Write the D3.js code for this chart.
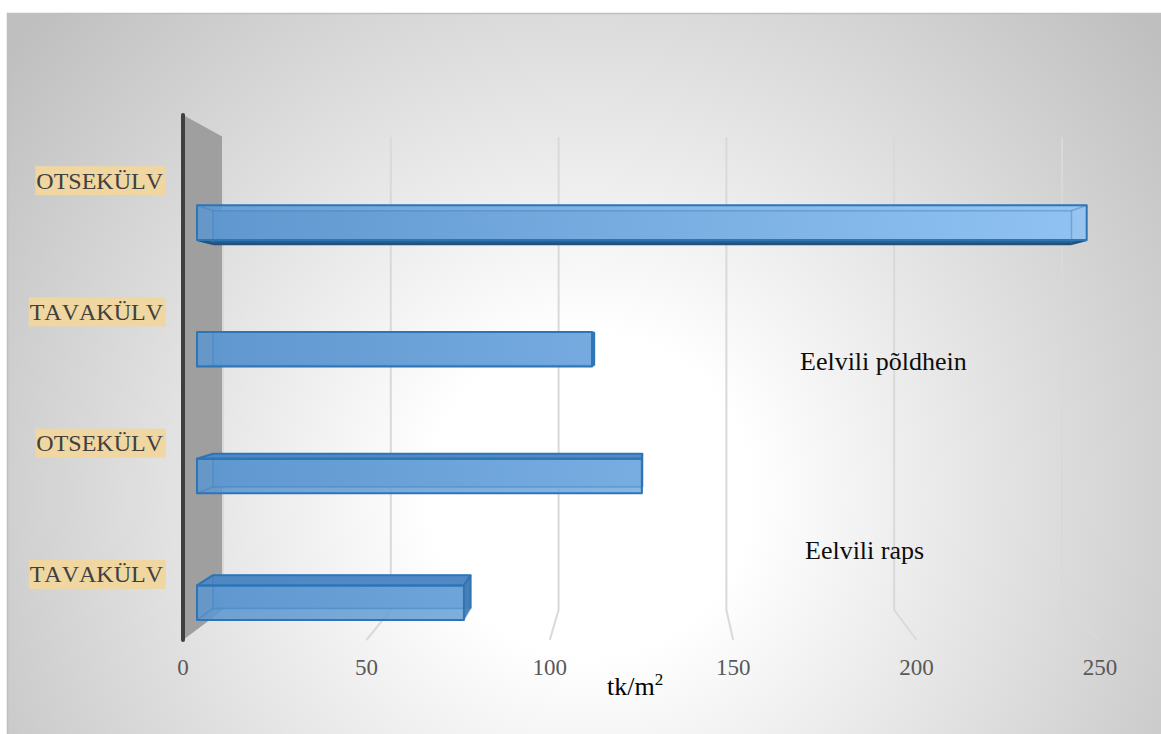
<!DOCTYPE html>
<html>
<head>
<meta charset="utf-8">
<script src="https://cdn.jsdelivr.net/npm/d3@7"></script>
<style>
  html, body { margin: 0; padding: 0; background: #ffffff; }
  svg { display: block; }
</style>
</head>
<body>
<script>
// Seemnete arv (tk/m²) külviviisi ja eelvilja järgi, ülevalt alla
const categories = ["OTSEKÜLV", "TAVAKÜLV", "OTSEKÜLV", "TAVAKÜLV"];
const values = [250, 111, 125, 75];
const groupLabels = ["Eelvili põldhein", "Eelvili raps"];
const tickValues = [0, 50, 100, 150, 200, 250];
const axisTitle = "tk/m";
const axisTitleSup = "2";

const W = 1161, H = 734;
const serif = "'Liberation Serif', 'Times New Roman', serif";

const svg = d3.select("body").append("svg")
  .attr("width", W).attr("height", H);

const defs = svg.append("defs");

// chart-area fill: radial grey-to-white
const bg = defs.append("radialGradient")
  .attr("id", "bgGrad")
  .attr("gradientUnits", "userSpaceOnUse")
  .attr("cx", 590).attr("cy", 495).attr("r", 730);
bg.append("stop").attr("offset", 0).attr("stop-color", "#ffffff");
bg.append("stop").attr("offset", 0.22).attr("stop-color", "#ffffff");
bg.append("stop").attr("offset", 1).attr("stop-color", "#bfbfbf");

// bar fill brightens along the value axis
const barGrad = defs.append("linearGradient")
  .attr("id", "barGrad")
  .attr("gradientUnits", "userSpaceOnUse")
  .attr("x1", 197).attr("x2", 1089).attr("y1", 0).attr("y2", 0);
barGrad.append("stop").attr("offset", 0).attr("stop-color", "#5d96ce");
barGrad.append("stop").attr("offset", 1).attr("stop-color", "#90c3f4");

// frame
svg.append("rect")
  .attr("x", 7.5).attr("y", 13.5)
  .attr("width", W).attr("height", H)
  .attr("fill", "url(#bgGrad)")
  .attr("stroke", "#bfbfbf").attr("stroke-width", 1.5);

// perspective: a near plane and a far plane, depth t in [0,1] between them
const xNear = d3.scaleLinear().domain([0, 250]).range([183, 1100]);
const xFar  = d3.scaleLinear().domain([0, 250]).range([223, 1062]);
const yNear = d3.scaleLinear().domain([0, 1]).range([115, 640]);
const yFar  = d3.scaleLinear().domain([0, 1]).range([137, 610]);
const band = d3.scaleBand().domain(d3.range(categories.length)).range([0, 1]);

function P(v, u, t) {
  const xn = xNear(v), xf = xFar(v), yn = yNear(u), yf = yFar(u);
  return [xn + (xf - xn) * t, yn + (yf - yn) * t];
}
const poly = pts => "M" + pts.map(p => p.join(",")).join("L") + "Z";
const line = (a, b) => "M" + a.join(",") + "L" + b.join(",");

// side wall at value 0
svg.append("path")
  .attr("d", poly([P(0, 0, 0), P(0, 0, 1), P(0, 1, 1), P(0, 1, 0)]))
  .attr("fill", "#9f9f9f");

// gridlines: on the back plane, then folding onto the floor
const grid = svg.append("g").attr("fill", "none")
  .attr("stroke", "#d9d9d9").attr("stroke-width", 2);
tickValues.forEach(v => {
  grid.append("path").attr("d", line(P(v, 0, 1), P(v, 1, 1)));
  if (v > 0) grid.append("path").attr("d", line(P(v, 1, 1), P(v, 1, 0)));
});

// category axis line on the near plane
svg.append("line")
  .attr("x1", xNear(0)).attr("x2", xNear(0))
  .attr("y1", yNear(0)).attr("y2", yNear(1))
  .attr("stroke", "#3f3f3f").attr("stroke-width", 4)
  .attr("stroke-linecap", "round");

// 3D bars
const t1 = 0.35, t2 = 0.75;
const bars = svg.append("g");
values.forEach((val, i) => {
  const bw = band.bandwidth();
  const u0 = band(i) + bw * 0.652, u1 = band(i) + bw * 0.925;
  const A = P(0, u0, t1), B = P(val, u0, t1), C = P(val, u1, t1), D = P(0, u1, t1);
  const A2 = P(0, u0, t2), B2 = P(val, u0, t2), C2 = P(val, u1, t2), D2 = P(0, u1, t2);
  const g = bars.append("g");

  g.append("path").attr("d", poly([A2, B2, C2, D2]))
    .attr("fill", "url(#barGrad)").attr("fill-opacity", 0.92);
  if (A2[1] < A[1]) g.append("path").attr("d", poly([A, B, B2, A2]))
    .attr("fill", "#4d87c1").attr("fill-opacity", 0.92);
  if (D2[1] > D[1]) g.append("path").attr("d", poly([D, C, C2, D2]))
    .attr("fill", "#2b5b8b").attr("fill-opacity", 0.95);
  if (B2[0] > B[0]) g.append("path").attr("d", poly([B, C, C2, B2]))
    .attr("fill", "#4a7cae").attr("fill-opacity", 0.95);
  g.append("path").attr("d", poly([A, B, C, D]))
    .attr("fill", "url(#barGrad)").attr("fill-opacity", 0.88);

  // edges seen through the translucent box
  const faint = g.append("g").attr("fill", "none")
    .attr("stroke", "#3a7fc0").attr("stroke-opacity", 0.45).attr("stroke-width", 1.5);
  faint.append("path").attr("d", poly([A2, B2, C2, D2]));
  [[A, A2], [B, B2], [C, C2], [D, D2]].forEach(([p, q]) => faint.append("path").attr("d", line(p, q)));

  // silhouette edges
  const sil = g.append("g").attr("fill", "none")
    .attr("stroke", "#2e75b6").attr("stroke-width", 2).attr("stroke-linejoin", "round");
  if (A2[1] < A[1]) sil.append("path").attr("d", poly([A, A2, B2, B]));
  if (D2[1] > D[1]) sil.append("path").attr("d", line(D, D2) + line(D2, C2) + line(C2, C))
    .attr("stroke", "#24507c").attr("stroke-width", 2.5);
  if (B2[0] > B[0]) sil.append("path").attr("d", line(B2, C2));
  sil.append("path").attr("d", poly([A, B, C, D]));
});

// category labels with highlighted background
const catG = svg.append("g");
categories.forEach((c, i) => {
  const cy = yNear(band(i) + band.bandwidth() / 2);
  const g = catG.append("g");
  const rect = g.append("rect").attr("fill", "#f0d6a1");
  const txt = g.append("text")
    .attr("x", 163).attr("y", cy)
    .attr("text-anchor", "end").attr("dominant-baseline", "central")
    .attr("font-family", serif).attr("font-size", 24)
    .style("font-kerning", "none")
    .attr("fill", "#404040").text(c);
  const bb = txt.node().getBBox();
  rect.attr("x", bb.x - 1).attr("width", bb.width + 3)
    .attr("y", cy - 14.5).attr("height", 29);
});

// value tick labels on the near edge of the floor
svg.append("g").selectAll("text").data(tickValues).join("text")
  .attr("x", d => xNear(d)).attr("y", 675)
  .attr("text-anchor", "middle")
  .attr("font-family", serif).attr("font-size", 23)
  .attr("fill", "#595959").text(d => d);

// axis title
const title = svg.append("text")
  .attr("x", 607).attr("y", 695)
  .attr("font-family", serif).attr("font-size", 26).attr("fill", "#000000");
title.append("tspan").text(axisTitle);
title.append("tspan").attr("dy", -10).attr("font-size", 17).text(axisTitleSup);

// group labels
const groupPos = [[800, 370], [805, 559]];
svg.append("g").selectAll("text").data(groupLabels).join("text")
  .attr("x", (d, i) => groupPos[i][0]).attr("y", (d, i) => groupPos[i][1])
  .attr("font-family", serif).attr("font-size", 26)
  .style("font-kerning", "none")
  .attr("fill", "#0d0d0d").text(d => d);
</script>
</body>
</html>
